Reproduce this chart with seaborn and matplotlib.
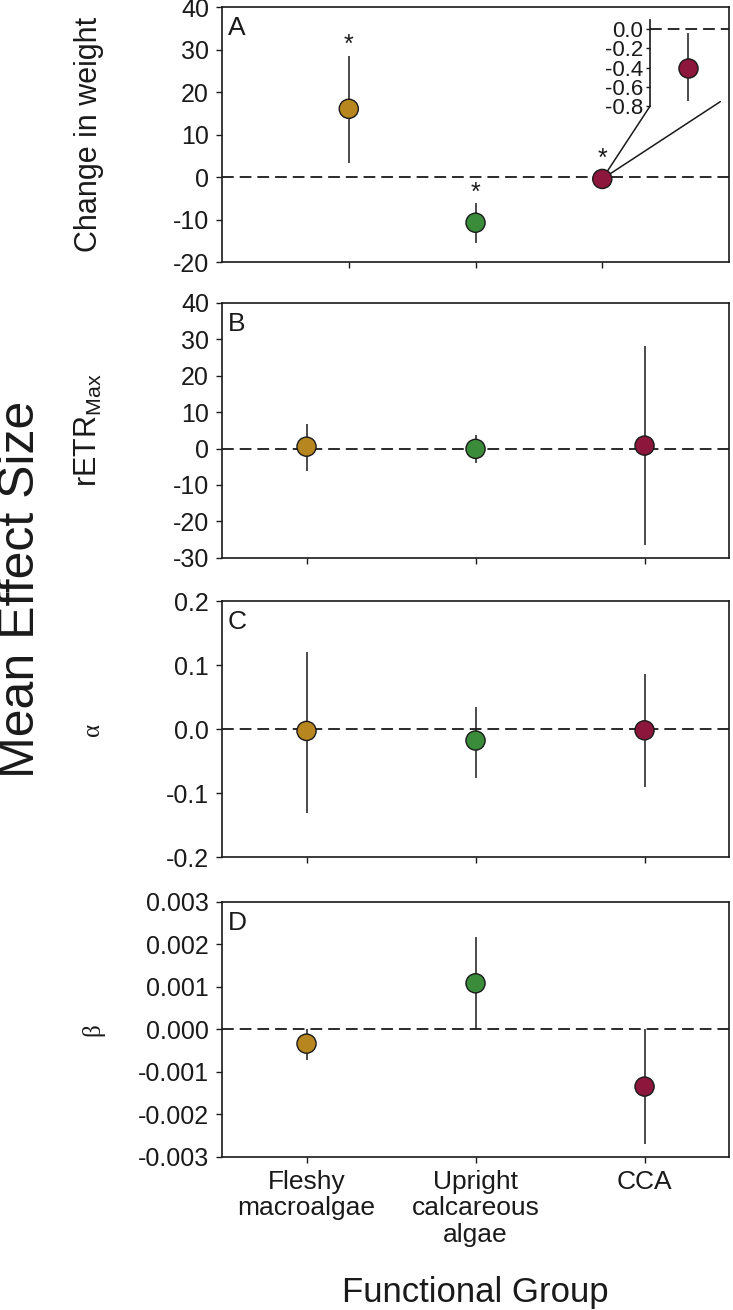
import numpy as np
import pandas as pd
import seaborn as sns
import matplotlib.pyplot as plt
from matplotlib.patches import ConnectionPatch
from matplotlib.ticker import FormatStrFormatter

groups = ['Fleshy\nmacroalgae', 'Upright\ncalcareous\nalgae', 'CCA']
colors = ['#B8861E', '#3A8C3A', '#8C163C']

# panel A: change in weight
weight_mean = [16.1, -10.7, -0.4]
weight_lo = [3.4, -15.5, -0.75]
weight_hi = [28.6, -6.1, -0.04]
weight_sig = [True, True, True]

# panel B: rETRmax
retr_mean = [0.5, -0.1, 0.8]
retr_lo = [-6.1, -3.9, -26.5]
retr_hi = [6.7, 3.6, 28.1]

# panel C: alpha
alpha_mean = [-0.003, -0.018, -0.002]
alpha_lo = [-0.131, -0.076, -0.091]
alpha_hi = [0.121, 0.035, 0.086]

# panel D: beta
beta_mean = [-0.00034, 0.00108, -0.00135]
beta_lo = [-0.00072, 0.0, -0.0027]
beta_hi = [0.0, 0.00218, 0.0]

sns.set_style("ticks")
plt.rcParams['font.family'] = ['Liberation Sans', 'DejaVu Sans']
plt.rcParams['axes.unicode_minus'] = False
plt.rcParams['mathtext.fontset'] = 'custom'
plt.rcParams['mathtext.rm'] = 'Liberation Sans'

ink = '#1a1a1a'


def frame(means, lo, hi):
    return pd.DataFrame({'pos': np.arange(len(means)), 'mean': means,
                         'lo': lo, 'hi': hi, 'group': groups})


def draw_points(ax, df):
    ax.axhline(0, color=ink, lw=1.3, dashes=(6.5, 3.3), zorder=1)
    ax.vlines(df['pos'], df['lo'], df['hi'], color=ink, lw=1.1, zorder=3)
    sns.scatterplot(data=df, x='pos', y='mean', hue='group', palette=colors,
                    s=190, edgecolor=ink, linewidth=1, legend=False, ax=ax, zorder=4)


def style(ax, xlim, ylim, step, fmt, letter, ylabel, ylsize, yfamily=None):
    ax.set_xlim(*xlim)
    ax.set_ylim(*ylim)
    ax.set_yticks(np.round(np.arange(ylim[0], ylim[1] + step / 2, step), 6) + 0.0)
    ax.yaxis.set_major_formatter(FormatStrFormatter(fmt))
    ax.set_xticks(np.arange(len(groups)))
    ax.set_xticklabels([])
    ax.set_xlabel('')
    kw = {'family': yfamily} if yfamily else {}
    ax.set_ylabel(ylabel, fontsize=ylsize, color=ink, **kw)
    ax.yaxis.set_label_coords(-0.232, 0.5)
    for sp in ax.spines.values():
        sp.set_visible(True)
        sp.set_linewidth(1.2)
        sp.set_color(ink)
    ax.tick_params(direction='out', length=4.3, width=1, colors=ink,
                   labelsize=18, pad=5)
    ax.text(0.012, 0.965, letter, transform=ax.transAxes, va='top', ha='left',
            fontsize=19, color=ink)


fig = plt.figure(figsize=(7.33, 13.10), dpi=100)
left, width = 0.3029, 0.6917
axA = fig.add_axes([left, 0.7998, width, 0.1947])
axB = fig.add_axes([left, 0.5741, width, 0.1949])
axC = fig.add_axes([left, 0.3458, width, 0.1954])
axD = fig.add_axes([left, 0.1170, width, 0.1947])

# A
dfA = frame(weight_mean, weight_lo, weight_hi)
draw_points(axA, dfA)
style(axA, (-1, 3), (-20, 40), 10, '%d', 'A', 'Change in weight', 22)
for _, r in dfA[weight_sig].iterrows():
    top = max(r['hi'], r['mean'] + 2.3)
    axA.annotate('*', xy=(r['pos'], top), xytext=(0, -1), textcoords='offset points',
                 ha='center', va='bottom', fontsize=18, color=ink)

# inset for CCA weight
axin = axA.inset_axes([0.8445, 0.613, 0.1555, 0.338])
axin.set_facecolor('none')
dfI = dfA.iloc[[2]].copy()
dfI['pos'] = 0
axin.axhline(0, color=ink, lw=1.3, dashes=(6.5, 3.3), zorder=1)
axin.vlines(dfI['pos'], dfI['lo'], dfI['hi'], color=ink, lw=1.1, zorder=3)
sns.scatterplot(data=dfI, x='pos', y='mean', color=colors[2], s=190,
                edgecolor=ink, linewidth=1, legend=False, ax=axin, zorder=4)
axin.set_xlim(-1, 1.1)
axin.set_ylim(-0.8, 0.1)
axin.set_yticks(np.round(np.arange(-0.8, 0.01, 0.2), 2) + 0.0)
axin.yaxis.set_major_formatter(FormatStrFormatter('%.1f'))
axin.set_xticks([])
axin.set_xlabel('')
axin.set_ylabel('')
for k in ['top', 'right', 'bottom']:
    axin.spines[k].set_visible(False)
axin.spines['left'].set_linewidth(1.2)
axin.spines['left'].set_color(ink)
axin.tick_params(axis='y', direction='out', length=3, width=1, colors=ink,
                 labelsize=16, pad=2)
for xyA in [(0, 0), (0.89, 0.05)]:
    con = ConnectionPatch(xyA=xyA, coordsA=axin.transAxes,
                          xyB=(2, weight_mean[2]), coordsB=axA.transData,
                          color=ink, lw=1.1, zorder=2.5)
    axA.add_artist(con)

# B
draw_points(axB, frame(retr_mean, retr_lo, retr_hi))
style(axB, (-0.5, 2.5), (-30, 40), 10, '%d', 'B',
      r'rETR$_{\mathregular{Max}}$', 22)

# C
draw_points(axC, frame(alpha_mean, alpha_lo, alpha_hi))
style(axC, (-0.5, 2.5), (-0.2, 0.2), 0.1, '%.1f', 'C', 'α', 18,
      yfamily='Liberation Serif')

# D
draw_points(axD, frame(beta_mean, beta_lo, beta_hi))
style(axD, (-0.5, 2.5), (-0.003, 0.003), 0.001, '%.3f', 'D', 'β', 18,
      yfamily='Liberation Serif')
axD.set_xticklabels(groups, fontsize=19, color=ink, linespacing=1.15)
axD.tick_params(axis='x', pad=5)

fig.text(0.028, 0.55, 'Mean Effect Size', rotation=90, ha='center', va='center',
         fontsize=36, color=ink)
fig.text(left + width / 2, 0.0063, 'Functional Group', ha='center', va='baseline',
         fontsize=25, color=ink)

fig.savefig('out.png', dpi=100)
